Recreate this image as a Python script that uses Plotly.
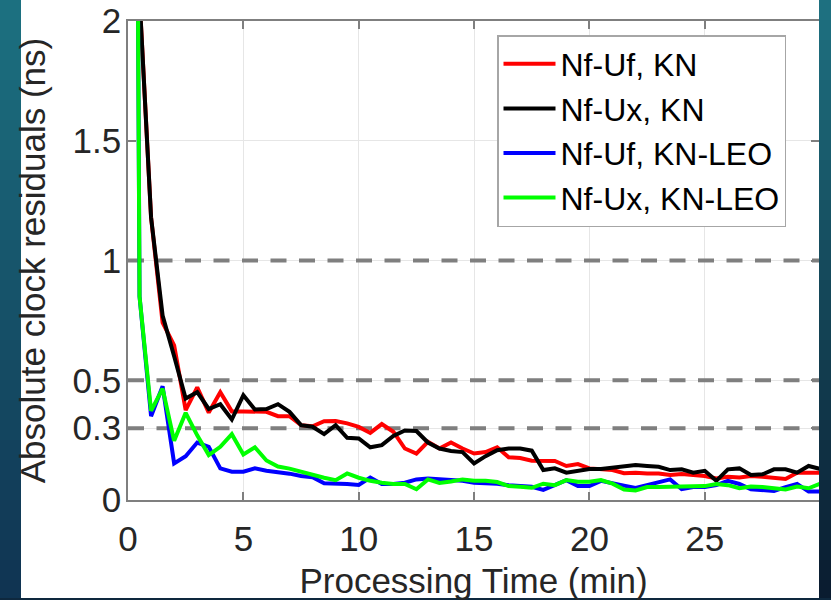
import plotly.graph_objects as go

# ---------------- data ----------------
time_min = [i * 0.5 for i in range(61)]  # 0 .. 30 min

nf_uf_kn = [10, 2.1, 1.18, 0.74, 0.646, 0.375, 0.47, 0.365, 0.45, 0.37,
            0.37, 0.37, 0.368, 0.35, 0.35, 0.3125, 0.308, 0.329, 0.33, 0.32,
            0.305, 0.28, 0.317, 0.285, 0.215, 0.194, 0.243, 0.215, 0.24, 0.215,
            0.194, 0.2, 0.22, 0.178, 0.175, 0.164, 0.164, 0.163, 0.142, 0.15,
            0.132, 0.128, 0.125, 0.112, 0.114, 0.111, 0.111, 0.104, 0.108, 0.104,
            0.1, 0.09, 0.097, 0.094, 0.1, 0.097, 0.094, 0.088, 0.114, 0.114, 0.114]

nf_ux_kn = [10, 2.1, 1.18, 0.77, 0.6, 0.424, 0.45, 0.38, 0.40, 0.336,
            0.4375, 0.378, 0.38, 0.40, 0.368, 0.3125, 0.306, 0.275, 0.3125, 0.26,
            0.257, 0.22, 0.229, 0.267, 0.29, 0.288, 0.24, 0.215, 0.205, 0.2,
            0.153, 0.183, 0.208, 0.215, 0.215, 0.206, 0.125, 0.132, 0.114, 0.122,
            0.129, 0.129, 0.135, 0.142, 0.146, 0.142, 0.139, 0.125, 0.128, 0.114,
            0.122, 0.08, 0.128, 0.132, 0.104, 0.107, 0.128, 0.128, 0.114, 0.142, 0.13]

nf_uf_kn_leo = [10, 0.85, 0.35, 0.475, 0.153, 0.183, 0.24, 0.222, 0.132, 0.118,
                0.118, 0.132, 0.122, 0.118, 0.11, 0.1, 0.095, 0.07, 0.07, 0.067,
                0.0625, 0.094, 0.067, 0.067, 0.072, 0.086, 0.09, 0.086, 0.086, 0.08,
                0.072, 0.072, 0.068, 0.062, 0.058, 0.055, 0.042, 0.062, 0.083, 0.058,
                0.058, 0.08, 0.072, 0.06, 0.05, 0.063, 0.076, 0.086, 0.045, 0.054,
                0.054, 0.0625, 0.08, 0.067, 0.045, 0.042, 0.038, 0.054, 0.067, 0.035, 0.035]

nf_ux_kn_leo = [10, 0.85, 0.372, 0.465, 0.247, 0.364, 0.27, 0.1875, 0.222, 0.275,
                0.19, 0.22, 0.165, 0.14, 0.131, 0.117, 0.104, 0.093, 0.083, 0.111,
                0.093, 0.08, 0.072, 0.067, 0.067, 0.045, 0.086, 0.071, 0.077, 0.086,
                0.08, 0.08, 0.075, 0.058, 0.055, 0.051, 0.068, 0.062, 0.083, 0.076,
                0.076, 0.083, 0.068, 0.044, 0.04, 0.054, 0.054, 0.054, 0.058, 0.054,
                0.058, 0.067, 0.062, 0.049, 0.056, 0.054, 0.049, 0.044, 0.056, 0.049, 0.068]

series_names = ["Nf-Uf, KN", "Nf-Ux, KN", "Nf-Uf, KN-LEO", "Nf-Ux, KN-LEO"]
series_values = [nf_uf_kn, nf_ux_kn, nf_uf_kn_leo, nf_ux_kn_leo]
series_colors = ["#ff0000", "#000000", "#0000ff", "#00ff00"]

x_range = [0, 29.95]
y_range = [0, 2]
x_tick_vals = [0, 5, 10, 15, 20, 25]
y_tick_vals = [0, 0.3, 0.5, 1, 1.5, 2]
y_tick_text = ["0", "0.3", "0.5", "1", "1.5", "2"]
threshold_levels = [0.3, 0.5, 1.0]

# ---------------- figure ----------------
W, H = 831, 600
ML, MR, MT, MB = 128, 12, 21, 100
PW, PH = W - ML - MR, H - MT - MB

fig = go.Figure()
# dashed reference levels (drawn first, under the data lines)
for lvl in threshold_levels:
    fig.add_trace(go.Scatter(x=x_range, y=[lvl, lvl], mode="lines", showlegend=False,
                             hoverinfo="skip",
                             line=dict(color="#7f7f7f", width=4, dash="16px,12.5px")))
for name, vals, col in zip(series_names, series_values, series_colors):
    fig.add_trace(go.Scatter(x=time_min, y=vals, mode="lines", name=name,
                             line=dict(color=col, width=4)))

def px2paper_x(p):
    return (p - ML) / PW

def px2paper_y(p):
    return (H - MB - p) / PH

def lerp(c1, c2, t):
    return "rgb(%d,%d,%d)" % tuple(round(a + (b - a) * t) for a, b in zip(c1, c2))

# decorative dark gradient frame strips (left, right, bottom)
shapes = []
N = 30
for k in range(N):
    t = k / (N - 1)
    y0p, y1p = H * k / N, H * (k + 1) / N + 1
    shapes.append(dict(type="rect", xref="paper", yref="paper",
                       x0=px2paper_x(0), x1=px2paper_x(21),
                       y0=px2paper_y(y1p), y1=px2paper_y(y0p),
                       fillcolor=lerp((28, 112, 128), (16, 52, 82), t), line=dict(width=0), layer="above"))
    shapes.append(dict(type="rect", xref="paper", yref="paper",
                       x0=px2paper_x(819), x1=px2paper_x(W),
                       y0=px2paper_y(y1p), y1=px2paper_y(y0p),
                       fillcolor=lerp((30, 112, 128), (10, 28, 48), t), line=dict(width=0), layer="above"))
shapes.append(dict(type="rect", xref="paper", yref="paper",
                   x0=px2paper_x(0), x1=px2paper_x(W),
                   y0=px2paper_y(H), y1=px2paper_y(598),
                   fillcolor="rgb(14,40,62)", line=dict(width=0), layer="above"))

font_main = "Liberation Sans, Arial, Helvetica, sans-serif"
axis_common = dict(showline=True, linecolor="#7f7f7f", linewidth=1.8, mirror="ticks",
                   ticks="inside", ticklen=8, tickwidth=1.5, tickcolor="#7f7f7f",
                   showgrid=True, gridcolor="#e6e6e6", gridwidth=1, zeroline=False,
                   automargin=False,
                   tickfont=dict(family=font_main, size=35, color="#262626"))

fig.update_layout(
    width=W, height=H,
    margin=dict(l=ML, r=MR, t=MT, b=MB, autoexpand=False),
    paper_bgcolor="white", plot_bgcolor="white",
    shapes=shapes,
    showlegend=True,
    legend=dict(x=px2paper_x(497), y=px2paper_y(35), xanchor="left", yanchor="top",
                bgcolor="white", bordercolor="#a6a6a6", borderwidth=1.5,
                font=dict(family=font_main, size=32, color="#000000"),
                itemwidth=52, tracegroupgap=0),
    xaxis=dict(range=x_range, tickvals=x_tick_vals,
               title=dict(text="Processing Time (min)", standoff=12,
                          font=dict(family=font_main, size=35, color="#262626")),
               ticklabelstandoff=7, **axis_common),
    yaxis=dict(range=y_range, tickvals=y_tick_vals, ticktext=y_tick_text,
               title=dict(text="Absolute clock residuals (ns)", standoff=16,
                          font=dict(family=font_main, size=35, color="#262626")),
               ticklabelstandoff=-2, **axis_common),
)

fig.write_html("out.html")
